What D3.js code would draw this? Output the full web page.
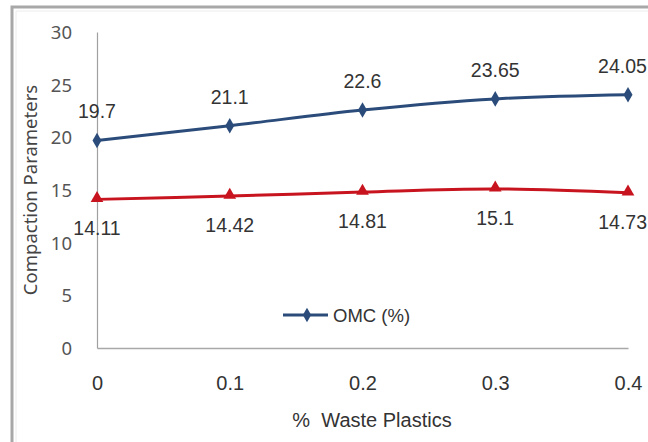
<!DOCTYPE html>
<html>
<head>
<meta charset="utf-8">
<script src="https://cdn.jsdelivr.net/npm/d3@7"></script>
<style>
  html, body { margin: 0; padding: 0; background: #fff; }
  svg { display: block; }
</style>
</head>
<body>
<svg id="chart" width="648" height="442"></svg>
<script>
// Waste plastic content (%) on the x axis
const wastePlastic = [0, 0.1, 0.2, 0.3, 0.4];
// Optimum moisture content (%)
const omc = [19.7, 21.1, 22.6, 23.65, 24.05];
// Maximum dry density series (red)
const mdd = [14.11, 14.42, 14.81, 15.1, 14.73];
const xTicks = [0, 0.1, 0.2, 0.3, 0.4];
const yTicks = [0, 5, 10, 15, 20, 25, 30];

const svg = d3.select("#chart");
const W = 648, H = 442;

// outer chart frame
svg.append("rect").attr("x", 12).attr("y", 7)
  .attr("width", W + 10).attr("height", H + 10)
  .attr("fill", "#fff").attr("stroke", "#a8a8a8").attr("stroke-width", 3);
svg.append("path").attr("d", `M16,${H} V11 H${W}`)
  .attr("fill", "none").attr("stroke", "#ececec").attr("stroke-width", 1);

const x = d3.scaleLinear().domain([0, 0.4]).range([97, 628]);
const y = d3.scaleLinear().domain([0, 30]).range([348, 32]);

// y axis
const yAxis = svg.append("g").attr("transform", "translate(97,0)")
  .call(d3.axisLeft(y).tickValues(yTicks).tickSize(0).tickPadding(25).tickFormat(d3.format("d")));
yAxis.select(".domain").attr("stroke", "#a0a0a0").attr("stroke-width", 1.2);
yAxis.selectAll("text").attr("font-family", "'Noto Sans', sans-serif")
  .attr("font-size", 18.5).attr("fill", "#555").attr("dy", "0.35em");

// x axis
const xAxis = svg.append("g").attr("transform", "translate(0,348)")
  .call(d3.axisBottom(x).tickValues(xTicks).tickSize(0).tickPadding(42).tickFormat(d => d === 0 ? "0" : d3.format(".1f")(d)));
xAxis.select(".domain").attr("stroke", "#a8a8a8").attr("stroke-width", 1.5);
xAxis.selectAll("text").attr("font-family", "'Liberation Sans', Arial, sans-serif")
  .attr("font-size", 20).attr("fill", "#333").attr("dy", "0");

// axis titles
svg.append("text").attr("x", 372).attr("y", 427).attr("text-anchor", "middle")
  .attr("font-family", "'Liberation Sans', Arial, sans-serif").attr("font-size", 20)
  .attr("fill", "#333").attr("xml:space", "preserve").text("%  Waste Plastics");
svg.append("text").attr("transform", "translate(37,190) rotate(-90)").attr("text-anchor", "middle")
  .attr("font-family", "'Noto Sans', sans-serif").attr("font-size", 18.5)
  .attr("fill", "#444").text("Compaction Parameters");

const line = d3.line().x((d, i) => x(wastePlastic[i])).y(d => y(d)).curve(d3.curveCatmullRom.alpha(0.5));
const blue = "#2b4c7a", red = "#c8141e";

// red series
svg.append("path").datum(mdd).attr("d", line).attr("fill", "none")
  .attr("stroke", red).attr("stroke-width", 3);
svg.selectAll(".tri").data(mdd).join("path").attr("class", "tri")
  .attr("d", d3.symbol().type(d3.symbolTriangle).size(70))
  .attr("transform", (d, i) => `translate(${x(wastePlastic[i])},${y(d) - 1})`)
  .attr("fill", red);

// blue series
svg.append("path").datum(omc).attr("d", line).attr("fill", "none")
  .attr("stroke", blue).attr("stroke-width", 3);
svg.selectAll(".dia").data(omc).join("path").attr("class", "dia")
  .attr("d", d3.symbol().type(d3.symbolDiamond).size(70))
  .attr("transform", (d, i) => `translate(${x(wastePlastic[i])},${y(d)})`)
  .attr("fill", blue);

// data labels, kept inside the right edge of the canvas
const lblFont = "'Liberation Sans', Arial, sans-serif";
function fitInside(sel) {
  sel.each(function () {
    const b = this.getBBox();
    const over = b.x + b.width - (W - 1);
    if (over > 0) d3.select(this).attr("x", +d3.select(this).attr("x") - over);
  });
}
svg.selectAll(".lo").data(omc).join("text").attr("class", "lo")
  .attr("x", (d, i) => x(wastePlastic[i])).attr("y", d => y(d) - 22)
  .attr("text-anchor", "middle").attr("font-family", lblFont).attr("font-size", 19.5)
  .attr("fill", "#333").text(d => d).call(fitInside);
svg.selectAll(".lm").data(mdd).join("text").attr("class", "lm")
  .attr("x", (d, i) => x(wastePlastic[i])).attr("y", d => y(d) + 36)
  .attr("text-anchor", "middle").attr("font-family", lblFont).attr("font-size", 19.5)
  .attr("fill", "#333").text(d => d).call(fitInside);

// legend
const lg = svg.append("g").attr("transform", "translate(283,315)");
lg.append("line").attr("x1", 0).attr("x2", 45).attr("y1", 0).attr("y2", 0)
  .attr("stroke", blue).attr("stroke-width", 3);
lg.append("path").attr("d", d3.symbol().type(d3.symbolDiamond).size(60))
  .attr("transform", "translate(24,0)").attr("fill", blue);
lg.append("text").attr("x", 50).attr("y", 6.5).attr("font-family", lblFont)
  .attr("font-size", 18.5).attr("fill", "#333").text("OMC (%)");
</script>
</body>
</html>
